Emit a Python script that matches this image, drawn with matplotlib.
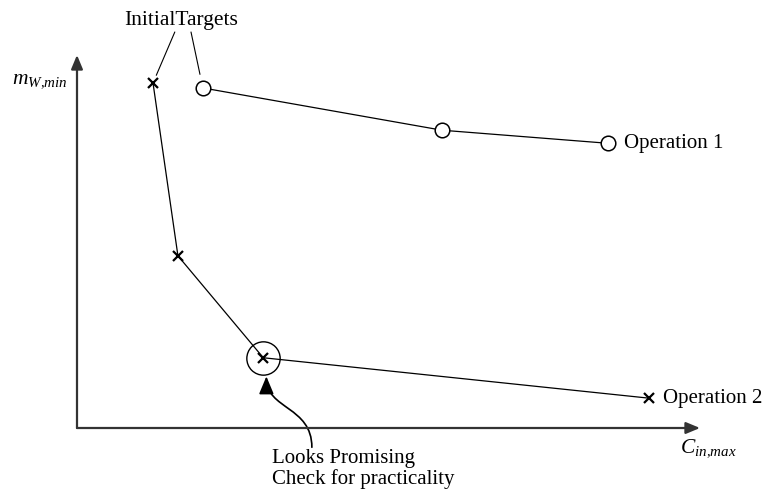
import matplotlib
matplotlib.use('Agg')
import matplotlib.pyplot as plt
from matplotlib.patches import FancyArrowPatch
from matplotlib.path import Path

plt.rcParams['font.family'] = ['Liberation Serif', 'DejaVu Serif']
plt.rcParams['mathtext.fontset'] = 'custom'
plt.rcParams['mathtext.rm'] = 'Liberation Serif'
plt.rcParams['mathtext.it'] = 'Liberation Serif:italic'

# targets (arbitrary units)
op1_x = [2.02, 5.86, 8.52]
op1_y = [5.47, 4.79, 4.58]
op2_x = [1.22, 1.62, 2.99, 9.18]
op2_y = [5.55, 2.77, 1.13, 0.48]
promising_idx = 2

x_label = r'$C_{in{,}max}$'
y_label = r'$m_{W{,}min}$'
op_labels = ['Operation 1', 'Operation 2']
targets_label = 'InitialTargets'
note = 'Looks Promising\nCheck for practicality'

fig = plt.figure(figsize=(7.64, 4.91), dpi=100)
ax = fig.add_axes([77 / 764, 63 / 491, 623 / 764, 373 / 491])
ax.set_xlim(0, 10)
ax.set_ylim(0, 6)
ax.axis('off')

# axes with arrow heads
axis_arrow = dict(arrowstyle='-|>,head_length=0.6,head_width=0.25', lw=1.6,
                  color='#333333', shrinkA=0, shrinkB=0, mutation_scale=14)
ax.annotate('', xy=(1, 0), xytext=(0, 0), xycoords='axes fraction', arrowprops=axis_arrow)
ax.annotate('', xy=(0, 1), xytext=(0, 0), xycoords='axes fraction', arrowprops=axis_arrow)

# operation curves
ax.plot(op1_x, op1_y, color='black', lw=0.9, marker='o', ms=10.5,
        mfc='white', mec='black', mew=1.1, clip_on=False, zorder=3)
ax.plot(op2_x, op2_y, color='black', lw=0.9, marker='x', ms=7,
        mec='black', mew=1.6, clip_on=False, zorder=3)
ax.plot(op2_x[promising_idx], op2_y[promising_idx], marker='o', ms=24,
        mfc='none', mec='black', mew=1.0, clip_on=False, zorder=3)

ax.annotate(op_labels[0], xy=(op1_x[-1], op1_y[-1]), xytext=(12, 0),
            textcoords='offset points', ha='left', va='center', fontsize=15)
ax.annotate(op_labels[1], xy=(op2_x[-1], op2_y[-1]), xytext=(10, 0),
            textcoords='offset points', ha='left', va='center', fontsize=15)

# axis labels
ax.text(10.13, -0.33, x_label, ha='center', va='center', fontsize=15.5)
ax.text(-0.59, 5.59, y_label, ha='center', va='center', fontsize=15.5)

# initial targets callout
ax.text(1.67, 6.56, targets_label, ha='center', va='center', fontsize=15.5)
ax.annotate('', xy=(op2_x[0], op2_y[0]), xytext=(1.57, 6.37),
            arrowprops=dict(arrowstyle='-', lw=0.8, color='black', shrinkA=0, shrinkB=6))
ax.annotate('', xy=(op1_x[0], op1_y[0]), xytext=(1.83, 6.37),
            arrowprops=dict(arrowstyle='-', lw=0.8, color='black', shrinkA=0, shrinkB=10))

# curved pointer to the promising point
px, py = op2_x[promising_idx], op2_y[promising_idx]
verts = [(3.77, -0.31), (3.77, 0.35), (px + 0.05, 0.3), (px + 0.05, 0.83)]
codes = [Path.MOVETO, Path.CURVE4, Path.CURVE4, Path.CURVE4]
pointer = FancyArrowPatch(path=Path(verts, codes),
                          arrowstyle='-|>,head_length=0.6,head_width=0.25',
                          mutation_scale=18, lw=1.2, color='black', clip_on=False)
ax.add_patch(pointer)
ax.text(3.13, -0.33, note, ha='left', va='top', fontsize=15, linespacing=1.12)

fig.savefig('out.png', dpi=100)
